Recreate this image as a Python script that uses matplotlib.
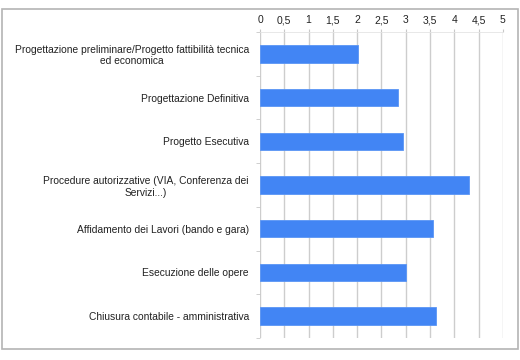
import matplotlib.pyplot as plt
from matplotlib.patches import Rectangle
from matplotlib.ticker import FuncFormatter

# dati
fasi = [
    "Progettazione preliminare/Progetto fattibilità tecnica\ned economica",
    "Progettazione Definitiva",
    "Progetto Esecutiva",
    "Procedure autorizzative (VIA, Conferenza dei\nServizi...)",
    "Affidamento dei Lavori (bando e gara)",
    "Esecuzione delle opere",
    "Chiusura contabile - amministrativa",
]
valori = [2.02, 2.85, 2.94, 4.31, 3.57, 3.0, 3.62]
ticks_x = [0, 0.5, 1, 1.5, 2, 2.5, 3, 3.5, 4, 4.5, 5]

plt.rcParams['font.family'] = ['Liberation Sans', 'DejaVu Sans']

fig = plt.figure(figsize=(5.2, 3.6), dpi=100)
ax = fig.add_axes([0.5, 0.061, 0.467, 0.85])

pos = list(range(len(fasi)))
ax.barh(pos, valori, height=0.4, color='#4285f4', edgecolor='#5a95f5', linewidth=0.6, zorder=3)

ax.set_xlim(0, 5)
ax.set_ylim(len(fasi) - 0.5, -0.5)
ax.set_xticks(ticks_x)
ax.xaxis.set_major_formatter(FuncFormatter(lambda v, p: ('%g' % v).replace('.', ',')))
ax.xaxis.tick_top()
ax.tick_params(axis='x', length=2, color='#c8c8c8', labelsize=7.5, pad=3, labelcolor='#222222')
ax.grid(axis='x', color='#cdcdcd', linewidth=1.0, zorder=0)

# etichette categorie e tacche ai confini delle bande
ax.set_yticks(pos)
ax.set_yticklabels(fasi, fontsize=7.4, ha='right', multialignment='center', color='#222222')
ax.tick_params(axis='y', length=0, pad=8)
ax.set_yticks([p + 0.5 for p in range(-1, len(fasi))], minor=True)
ax.tick_params(axis='y', which='minor', length=3, color='#c8c8c8')

for s in ['right', 'bottom', 'left']:
    ax.spines[s].set_visible(False)
ax.spines['top'].set_color('#e4e4e4')
ax.spines['top'].set_linewidth(0.6)

# cornice dell'immagine
fig.patches.append(Rectangle((2 / 520, 1 - 349 / 360), 516 / 520, 340 / 360,
                             transform=fig.transFigure, fill=False,
                             edgecolor='#b4b4b4', linewidth=1.2))

fig.savefig('out.png', dpi=100)
